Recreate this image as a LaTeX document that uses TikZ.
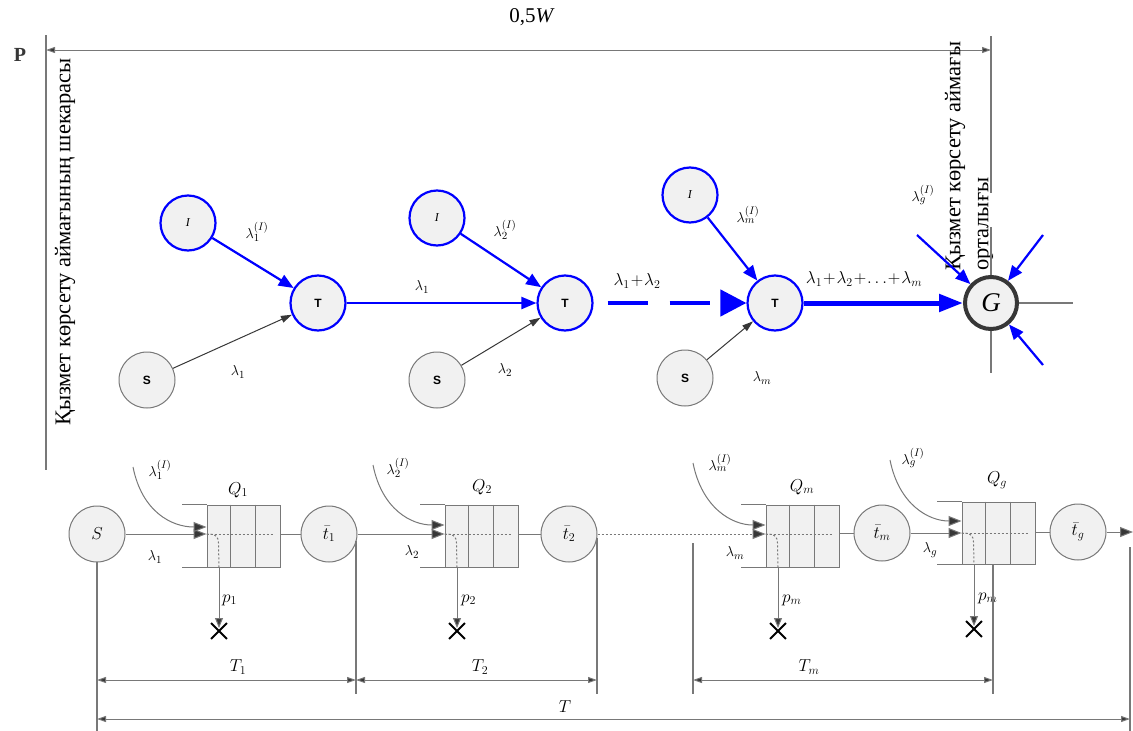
\documentclass[tikz,border=0pt]{standalone}
\usepackage{fontspec}
\setmainfont{Liberation Serif}
\setsansfont{Liberation Sans}
\usetikzlibrary{arrows.meta,shapes.misc}
\definecolor{bl}{RGB}{0,0,255}
\definecolor{ln}{RGB}{120,120,120}
\definecolor{dk}{RGB}{55,55,55}
\definecolor{cf}{RGB}{241,241,241}
\newcommand\myqueue[3]{%
  \node[queuebox] (#1) at (#2+36.5,#3) {};
  \draw[qline] (#1.north west) -- ++(-25,0);
  \draw[qline] (#1.south west) -- ++(-25,0);
  \draw[qline] (#1.north west) ++(24.3,0) -- ++(0,62);
  \draw[qline] (#1.north west) ++(48.6,0) -- ++(0,62);
}
\begin{document}
\begin{tikzpicture}[x=1pt,y=-1pt,
  every node/.style={inner sep=0pt},
  circ/.style={circle,draw=ln,line width=1pt,fill=cf,minimum size=56pt,inner sep=0pt},
  bcirc/.style={circle,draw=bl,line width=2.2pt,fill=cf,minimum size=55pt,inner sep=0pt},
  gnode/.style={circle,draw=dk,line width=4pt,fill=cf,minimum size=52pt,inner sep=0pt},
  barrow/.style={draw=bl,line width=2.2pt,-{Triangle[length=15pt,width=12pt]}},
  tharrow/.style={draw=dk,line width=1pt,-{Triangle[length=11pt,width=7pt]}},
  garrow/.style={draw=ln,line width=1pt,-{Triangle[length=13pt,width=10pt,fill=dk]}},
  downarrow/.style={draw=ln,line width=1pt,-{Triangle[length=10pt,width=8pt,fill=dk]}},
  gline/.style={draw=ln,line width=1.2pt},
  dim/.style={draw=ln,line width=1pt,{Triangle[length=9pt,width=6pt,fill=dk]}-{Triangle[length=9pt,width=6pt,fill=dk]}},
  qline/.style={draw=ln,line width=1pt},
  queuebox/.style={rectangle,draw=ln,fill=cf,line width=1pt,minimum width=73pt,minimum height=62pt},
  dotl/.style={draw=ln,line width=1pt,dash pattern=on 2pt off 2pt},
  xmark/.style={cross out,draw=black,line width=1.8pt,minimum size=14pt},
  lbl/.style={font=\fontsize{15}{17}\selectfont},
  big/.style={font=\fontsize{18}{20}\selectfont},
  vtext/.style={rotate=90,font=\rmfamily\fontsize{22.5}{28}\selectfont},
  small/.style={font=\sffamily\bfseries\fontsize{12}{14}\selectfont},
]
\useasboundingbox (0,0) rectangle (1133,731);

% ---- top dimension and boundaries
\node[font=\fontsize{21}{24}\selectfont] (title) at (532,17) {0,5\textit{W}};
\node[font=\fontsize{20}{22}\selectfont\bfseries,text=dk] (P) at (20,55) {P};
\coordinate (bl1) at (46,35); \coordinate (bl2) at (46,470);
\draw[gline] (bl1) -- (bl2);
\coordinate (br1) at (991,36); \coordinate (br2) at (991,193);
\draw[gline] (br1) -- (br2);
\coordinate (dl) at (46,50); \coordinate (dr) at (991,50);
\draw[dim] (dl) -- (dr);
\node[vtext] (lefttxt) at (65,242) {Қызмет көрсету аймағының шекарасы};
\node[vtext,anchor=west,align=left] (righttxt) at (969,271) {Қызмет көрсету аймағы\\орталығы};

% ---- top graph
\node[bcirc] (I1) at (188,223) {\fontsize{12}{14}\selectfont\textit{I}};
\node[bcirc] (T1) at (318,303) {};
\node[small] at (T1) {T};
\node[circ] (S1) at (147,380) {};
\node[small] at (S1) {S};
\node[bcirc] (I2) at (437,218) {\fontsize{12}{14}\selectfont\textit{I}};
\node[bcirc] (T2) at (565,303) {};
\node[small] at (T2) {T};
\node[circ] (S2) at (437,380) {};
\node[small] at (S2) {S};
\node[bcirc] (I3) at (690,195) {\fontsize{12}{14}\selectfont\textit{I}};
\node[bcirc] (T3) at (775,303) {};
\node[small] at (T3) {T};
\node[circ] (S3) at (685,378) {};
\node[small] at (S3) {S};

\draw[barrow] (I1) -- (T1);
\draw[tharrow] (S1) -- (T1);
\draw[barrow] (T1) -- (T2);
\draw[barrow] (I2) -- (T2);
\draw[tharrow] (S2) -- (T2);
\draw[draw=bl,line width=4.5pt,dash pattern=on 40pt off 22pt,shorten <=14pt,-{Triangle[length=26pt,width=26pt]}] (T2) -- (T3);
\draw[barrow] (I3) -- (T3);
\draw[tharrow] (S3) -- (T3);

\coordinate (gv1) at (991,227); \coordinate (gv2) at (991,373);
\coordinate (gc) at (991,303); \coordinate (gh) at (1073,303);
\draw[gline] (gv1) -- (gv2);
\draw[gline] (gc) -- (gh);
\node[gnode] (G) at (gc) {\fontsize{27}{29}\selectfont\textit{G}};
\draw[draw=bl,line width=5pt,-{Triangle[length=24pt,width=17pt]}] (T3) -- (G);
\coordinate (ga) at (917,235); \coordinate (gb) at (1043,235); \coordinate (gd) at (1043,365);
\draw[barrow] (ga) -- (G);
\draw[barrow] (gb) -- (G);
\draw[barrow] (gd) -- (G);

\node[lbl] (l1i) at (257,232) {$\lambda_1^{(I)}$};
\node[lbl] (l1s) at (238,372) {$\lambda_1$};
\node[lbl] (l1t) at (422,287) {$\lambda_1$};
\node[lbl] (l2i) at (505,230) {$\lambda_2^{(I)}$};
\node[lbl] (l2s) at (505,370) {$\lambda_2$};
\node[big] (l12) at (637,281) {$\lambda_1\!+\!\lambda_2$};
\node[lbl] (lmi) at (748,215) {$\lambda_m^{(I)}$};
\node[lbl] (lms) at (762,378) {$\lambda_m$};
\node[big] (lsum) at (864,279) {$\lambda_1\!+\!\lambda_2\!+\!\ldots\!+\!\lambda_m$};
\node[lbl] (lgi) at (923,195) {$\lambda_g^{(I)}$};

% ---- bottom chain
\node[circ,big] (S) at (97,534) {$S$};
\myqueue{q1}{207}{536}
\node[circ,big] (t1) at (329,534) {$\bar{t}_1$};
\myqueue{q2}{445}{536}
\node[circ,big] (t2) at (569,534) {$\bar{t}_2$};
\myqueue{qm}{766}{536}
\node[circ,big] (tm) at (882,533) {$\bar{t}_m$};
\myqueue{qg}{962}{533}
\node[circ,big] (tg) at (1078,532) {$\bar{t}_g$};
\coordinate (out) at (1133,532);

\draw[garrow] (S) -- (S -| q1.west);
\draw[dotl] (S -| q1.west) -- ++(66,0);
\draw[qline] (q1.east |- t1) -- (t1);
\draw[garrow] (t1) -- (t1 -| q2.west);
\draw[dotl] (t1 -| q2.west) -- ++(66,0);
\draw[qline] (q2.east |- t2) -- (t2);
\draw[dotl,-{Triangle[length=13pt,width=10pt,fill=dk]}] (t2) -- (t2 -| qm.west);
\draw[dotl] (t2 -| qm.west) -- ++(66,0);
\draw[qline] (qm.east |- tm) -- (tm);
\draw[garrow] (tm) -- (tm -| qg.west);
\draw[dotl] (tm -| qg.west) -- ++(66,0);
\draw[qline] (qg.east |- tg) -- (tg);
\draw[garrow] (tg) -- (out);

% arrivals from outside
\coordinate (c1) at (133,467); \coordinate (c2) at (373,465);
\coordinate (c3) at (693,463); \coordinate (c4) at (890,460);
\draw[garrow] (c1) .. controls (142,512) and (172,527) .. (q1.west |- 0,527);
\draw[garrow] (c2) .. controls (382,510) and (412,525) .. (q2.west |- 0,525);
\draw[garrow] (c3) .. controls (702,508) and (732,525) .. (qm.west |- 0,525);
\draw[garrow] (c4) .. controls (899,505) and (929,521) .. (qg.west |- 0,521);

% rejections
\coordinate (r1) at (219,567); \node[xmark] (x1) at (219,631) {};
\draw[dotl] (S -| q1.west) -- ++(3,0) .. controls +(6,0) and +(0,-6) .. ++(9,9) -- (r1);
\draw[downarrow,shorten >=3pt] (r1) -- (x1.center);
\coordinate (r2) at (457,567); \node[xmark] (x2) at (457,631) {};
\draw[dotl] (t1 -| q2.west) -- ++(3,0) .. controls +(6,0) and +(0,-6) .. ++(9,9) -- (r2);
\draw[downarrow,shorten >=3pt] (r2) -- (x2.center);
\coordinate (r3) at (778,567); \node[xmark] (x3) at (778,631) {};
\draw[dotl] (t2 -| qm.west) -- ++(3,0) .. controls +(6,0) and +(0,-6) .. ++(9,9) -- (r3);
\draw[downarrow,shorten >=3pt] (r3) -- (x3.center);
\coordinate (r4) at (974,564); \node[xmark] (x4) at (974,629) {};
\draw[dotl] (tm -| qg.west) -- ++(3,0) .. controls +(6,0) and +(0,-6) .. ++(9,9) -- (r4);
\draw[downarrow,shorten >=3pt] (r4) -- (x4.center);

% labels bottom
\node[lbl] at (160,470) {$\lambda_1^{(I)}$};
\node[big] (Q1) at (238,490) {$Q_1$};
\node[lbl] at (155,557) {$\lambda_1$};
\node[big,anchor=west] at (222,600) {$p_1$};
\node[lbl] at (398,468) {$\lambda_2^{(I)}$};
\node[big] (Q2) at (482,487) {$Q_2$};
\node[lbl] at (412,552) {$\lambda_2$};
\node[big,anchor=west] at (461,600) {$p_2$};
\node[lbl] at (720,463) {$\lambda_m^{(I)}$};
\node[big] (Qm) at (802,487) {$Q_m$};
\node[lbl] at (735,553) {$\lambda_m$};
\node[big,anchor=west] at (782,600) {$p_m$};
\node[lbl] at (913,458) {$\lambda_g^{(I)}$};
\node[big] (Qg) at (997,480) {$Q_g$};
\node[lbl] at (930,550) {$\lambda_g$};
\node[big,anchor=west] at (978,598) {$p_m$};

% dimension lines
\coordinate (e1a) at (97,731);
\draw[gline] (S) ++(0,28) -- (e1a);
\coordinate (e2a) at (356,541); \coordinate (e2b) at (356,694);
\coordinate (e3a) at (597,538); \coordinate (e3b) at (597,694);
\coordinate (e4a) at (693,543); \coordinate (e4b) at (693,694);
\coordinate (e5a) at (993,564); \coordinate (e5b) at (993,694);
\coordinate (e6a) at (1130,547); \coordinate (e6b) at (1130,731);
\draw[gline] (e2a) -- (e2b);
\draw[gline] (e3a) -- (e3b);
\draw[gline] (e4a) -- (e4b);
\draw[gline] (e5a) -- (e5b);
\draw[gline] (e6a) -- (e6b);
\coordinate (d1) at (97,680); \coordinate (d2) at (356,680); \coordinate (d3) at (597,680);
\coordinate (d4) at (693,680); \coordinate (d5) at (993,680);
\coordinate (d6) at (97,719); \coordinate (d7) at (1130,719);
\draw[dim] (d1) -- (d2);
\draw[dim] (d2) -- (d3);
\draw[dim] (d4) -- (d5);
\draw[dim] (d6) -- (d7);
\node[big] at (238,667) {$T_1$};
\node[big] at (480,667) {$T_2$};
\node[big] at (809,667) {$T_m$};
\node[big] at (565,707) {$T$};
\end{tikzpicture}
\end{document}
